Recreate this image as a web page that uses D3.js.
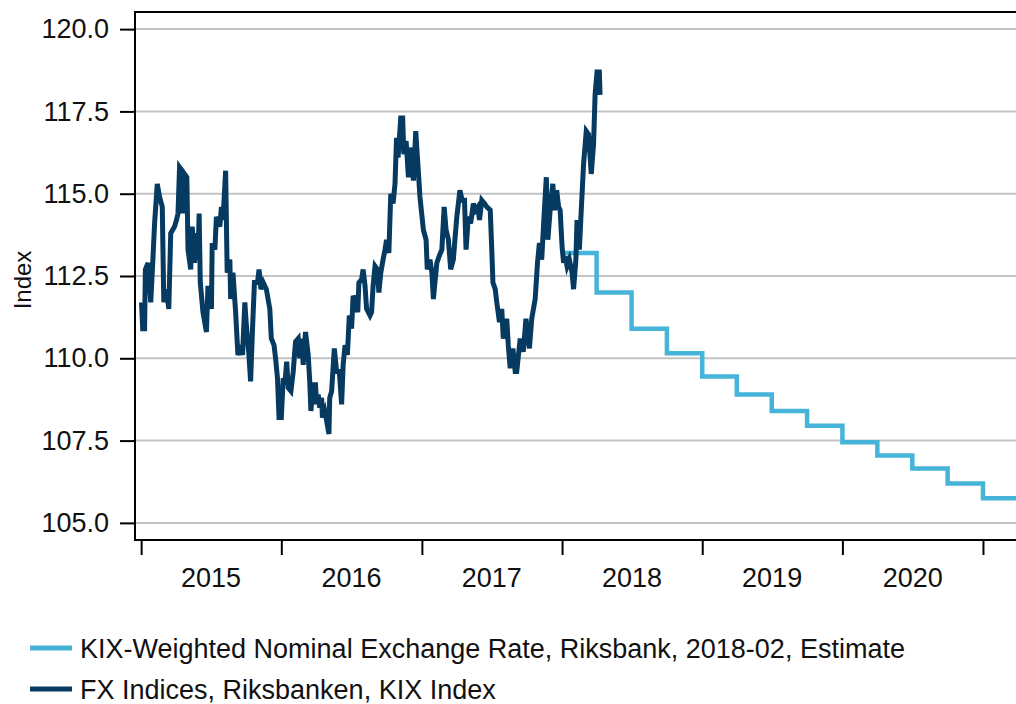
<!DOCTYPE html>
<html>
<head>
<meta charset="utf-8">
<script src="https://cdn.jsdelivr.net/npm/d3@7"></script>
<style>
  body { margin: 0; background: #fff; }
  text { font-family: "Liberation Sans", Arial, sans-serif; }
</style>
</head>
<body>
<div id="chart"></div>
<script>
// KIX index (dark line)
const kixDates = [
  "2015-01-02","2015-01-05","2015-01-10","2015-01-12","2015-01-19","2015-01-26","2015-02-01","2015-02-05","2015-02-12","2015-02-18",
  "2015-02-25","2015-03-01","2015-03-08","2015-03-14","2015-03-19","2015-03-29","2015-04-03","2015-04-07","2015-04-11","2015-04-17",
  "2015-04-20","2015-04-24","2015-04-30","2015-05-03","2015-05-10","2015-05-14","2015-05-20","2015-05-25","2015-05-29","2015-06-01",
  "2015-06-04","2015-06-11","2015-06-20","2015-06-24","2015-07-03","2015-07-05","2015-07-12","2015-07-16","2015-07-25","2015-07-29",
  "2015-08-02","2015-08-09","2015-08-13","2015-08-20","2015-08-22","2015-08-28","2015-09-04","2015-09-10","2015-09-17","2015-09-22",
  "2015-09-28","2015-10-02","2015-10-08","2015-10-13","2015-10-18","2015-10-23","2015-10-31","2015-11-04","2015-11-09","2015-11-15",
  "2015-11-23","2015-12-02","2015-12-06","2015-12-13","2015-12-17","2015-12-22","2015-12-26","2016-01-01","2016-01-06","2016-01-10",
  "2016-01-15","2016-01-19","2016-01-26","2016-02-01","2016-02-07","2016-02-14","2016-02-18","2016-02-23","2016-02-27","2016-03-04",
  "2016-03-11","2016-03-15","2016-03-18","2016-03-24","2016-03-30","2016-04-02","2016-04-06","2016-04-10","2016-04-15","2016-04-17",
  "2016-04-23","2016-04-28","2016-05-04","2016-05-06","2016-05-11","2016-05-18","2016-05-24","2016-05-31","2016-06-06","2016-06-10",
  "2016-06-15","2016-06-21","2016-06-26","2016-07-02","2016-07-06","2016-07-13","2016-07-18","2016-07-21","2016-07-28","2016-08-01",
  "2016-08-06","2016-08-10","2016-08-19","2016-08-23","2016-08-27","2016-09-01","2016-09-07","2016-09-11","2016-09-16","2016-09-22",
  "2016-09-27","2016-10-01","2016-10-07","2016-10-12","2016-10-18","2016-10-23","2016-10-27","2016-10-31","2016-11-07","2016-11-12",
  "2016-11-15","2016-11-21","2016-11-27","2016-12-01","2016-12-10","2016-12-16","2016-12-21","2016-12-27","2017-01-05","2017-01-12",
  "2017-01-15","2017-01-22","2017-01-27","2017-01-31","2017-02-04","2017-02-09","2017-02-15","2017-02-22","2017-02-28","2017-03-05",
  "2017-03-11","2017-03-17","2017-03-24","2017-03-28","2017-04-02","2017-04-10","2017-04-16","2017-04-22","2017-04-26","2017-05-02",
  "2017-05-08","2017-05-15","2017-05-21","2017-05-27","2017-05-31","2017-06-06","2017-06-13","2017-06-19","2017-06-28","2017-07-02",
  "2017-07-05","2017-07-11","2017-07-15","2017-07-22","2017-07-28","2017-08-01","2017-08-10","2017-08-14","2017-08-19","2017-08-26",
  "2017-09-01","2017-09-05","2017-09-14","2017-09-22","2017-09-29","2017-10-08","2017-10-14","2017-10-23","2017-10-29","2017-11-03",
  "2017-11-09","2017-11-15","2017-11-21","2017-11-25","2017-12-01","2017-12-08","2017-12-12","2017-12-18","2017-12-23","2017-12-27",
  "2018-01-01","2018-01-05","2018-01-09","2018-01-14","2018-01-20","2018-01-27","2018-01-31","2018-02-06","2018-02-09","2018-02-15",
  "2018-02-20","2018-02-26","2018-03-05","2018-03-11","2018-03-18","2018-03-24","2018-03-28","2018-04-02","2018-04-08","2018-04-10"
];
const kixValues = [
  111.7,110.9,110.9,112.7,112.9,111.7,113.1,114.1,115.3,114.9,
  114.6,111.7,112.1,111.5,113.8,114.0,114.2,114.4,115.8,115.7,
  114.4,115.6,115.5,113.3,112.7,114.0,112.9,113.8,113.0,114.4,
  112.3,111.4,110.8,112.2,111.5,113.5,113.3,114.3,114.0,114.6,
  114.2,115.7,112.6,113.0,111.8,112.6,111.4,110.1,110.4,110.1,
  111.7,111.0,110.2,109.3,110.9,112.3,112.3,112.7,112.1,112.3,
  112.1,111.5,110.6,110.4,110.0,109.4,108.2,108.2,109.4,109.2,
  109.9,109.1,109.0,109.6,110.5,110.6,110.0,110.6,109.8,110.8,
  110.1,109.3,108.4,109.2,109.2,108.6,108.9,108.5,108.8,108.2,
  108.4,108.1,107.7,108.8,109.0,110.3,109.6,109.6,108.6,109.8,
  110.4,110.1,111.3,110.9,111.9,111.7,111.4,112.3,112.4,112.7,
  112.2,111.5,111.3,111.4,112.2,112.8,112.7,112.0,112.6,113.0,
  113.3,113.6,113.2,115.0,114.7,115.3,116.7,116.1,117.3,117.3,
  116.2,116.6,115.5,116.4,115.4,116.9,116.0,114.9,113.9,113.6,
  112.7,113.0,112.6,111.8,112.3,112.9,113.1,113.3,114.6,113.9,
  113.6,112.7,113.0,113.6,114.3,115.1,114.8,114.8,113.3,114.3,
  114.1,114.7,114.5,114.6,114.2,114.8,114.7,114.6,114.5,113.3,
  112.3,112.1,111.7,111.1,111.5,110.6,111.2,110.4,109.7,110.3,
  109.6,109.6,110.6,110.2,111.2,110.3,111.2,111.8,112.9,113.5,
  113.0,114.3,115.5,113.6,114.5,115.3,114.5,115.1,114.6,114.5,
  113.4,112.9,113.1,112.8,113.0,112.6,112.1,113.0,114.2,113.3,
  114.5,115.9,116.9,116.8,115.6,116.5,118.0,118.7,118.7,118.0
];

// Riksbank estimate (light line), quarterly steps
const estDates = [
  "2018-01-01","2018-04-01","2018-07-01","2018-10-01","2019-01-01","2019-04-01","2019-07-01",
  "2019-10-01","2020-01-01","2020-04-01","2020-07-01","2020-10-01","2021-01-01","2021-04-01"
];
const estValues = [113.2,112.0,110.9,110.15,109.45,108.9,108.4,107.95,107.45,107.05,106.65,106.2,105.75,105.75];

const yTicks = [105, 107.5, 110, 112.5, 115, 117.5, 120];
const yearTicks = [2015, 2016, 2017, 2018, 2019, 2020, 2021];
const yearLabels = [2015, 2016, 2017, 2018, 2019, 2020];
const legendNames = [
  "KIX-Weighted Nominal Exchange Rate, Riksbank, 2018-02, Estimate",
  "FX Indices, Riksbanken, KIX Index"
];
const colors = ["#45b4d8", "#063a60"];

const W = 1016, H = 704;
const margin = {left: 135, right: 1016, top: 12, bottom: 540};
const fontSize = "27px";

const parse = d3.timeParse("%Y-%m-%d");
const kix = kixDates.map((d, i) => ({date: parse(d), value: kixValues[i]}));
const est = estDates.map((d, i) => ({date: parse(d), value: estValues[i]}));

const svg = d3.select("#chart").append("svg")
    .attr("width", W)
    .attr("height", H);

const x = d3.scaleTime()
    .domain([parse("2014-12-16"), parse("2021-03-28")])
    .range([margin.left, margin.right]);

const y = d3.scaleLinear()
    .domain([104.48, 120.52])
    .range([margin.bottom, margin.top]);

// grid lines
svg.append("g")
  .selectAll("line")
  .data(yTicks)
  .join("line")
    .attr("x1", margin.left)
    .attr("x2", margin.right)
    .attr("y1", d => y(d))
    .attr("y2", d => y(d))
    .style("stroke", "#c3c3c3")
    .style("stroke-width", 2);

// Y axis
const yAxis = svg.append("g")
    .attr("transform", `translate(${margin.left},0)`)
    .call(d3.axisLeft(y).tickValues(yTicks).tickSize(15).tickPadding(11).tickFormat(d3.format(".1f")));
yAxis.select(".domain").remove();
yAxis.selectAll(".tick line").style("stroke", "#000").style("stroke-width", 2);
yAxis.selectAll(".tick text").style("font-size", fontSize).style("fill", "#111");

// X axis (ticks on year boundaries, labels mid-year)
const xAxis = svg.append("g")
    .attr("transform", `translate(0,${margin.bottom})`)
    .call(d3.axisBottom(x).tickValues(yearTicks.map(yr => new Date(yr, 0, 1))).tickSize(15).tickFormat(""));
xAxis.select(".domain").remove();
xAxis.selectAll(".tick line").style("stroke", "#000").style("stroke-width", 2);

svg.append("g")
  .selectAll("text")
  .data(yearLabels)
  .join("text")
    .attr("x", d => x(new Date(d, 6, 2)))
    .attr("y", margin.bottom + 47)
    .attr("text-anchor", "middle")
    .style("font-size", fontSize)
    .style("fill", "#111")
    .text(d => d);

// frame: left, bottom and top lines
svg.append("path")
    .attr("d", `M${margin.right},${margin.top}H${margin.left}V${margin.bottom}H${margin.right}`)
    .style("fill", "none")
    .style("stroke", "#000")
    .style("stroke-width", 2);

// y label
svg.append("text")
    .attr("transform", `translate(31,${(margin.top + margin.bottom) / 2 + 4}) rotate(-90)`)
    .attr("text-anchor", "middle")
    .style("font-size", "24px")
    .style("fill", "#111")
    .text("Index");

svg.append("clipPath").attr("id", "plot")
  .append("rect")
    .attr("x", margin.left).attr("y", margin.top)
    .attr("width", margin.right - margin.left).attr("height", margin.bottom - margin.top);

const plot = svg.append("g").attr("clip-path", "url(#plot)");

// estimate step line
plot.append("path")
    .datum(est)
    .attr("d", d3.line().curve(d3.curveStepAfter).x(d => x(d.date)).y(d => y(d.value)))
    .style("fill", "none")
    .style("stroke", colors[0])
    .style("stroke-width", 4.5);

// KIX line
plot.append("path")
    .datum(kix)
    .attr("d", d3.line().x(d => x(d.date)).y(d => y(d.value)))
    .style("fill", "none")
    .style("stroke", colors[1])
    .style("stroke-width", 5)
    .style("stroke-linejoin", "miter");

// legend
const legend = svg.append("g")
  .selectAll("g")
  .data(legendNames)
  .join("g")
    .attr("transform", (d, i) => `translate(30,${648 + i * 41})`);

legend.append("line")
    .attr("x1", 0).attr("x2", 42)
    .style("stroke", (d, i) => colors[i])
    .style("stroke-width", 5);

legend.append("text")
    .attr("x", 50)
    .attr("y", 9.5)
    .style("font-size", fontSize)
    .style("fill", "#111")
    .text(d => d);
</script>
</body>
</html>
